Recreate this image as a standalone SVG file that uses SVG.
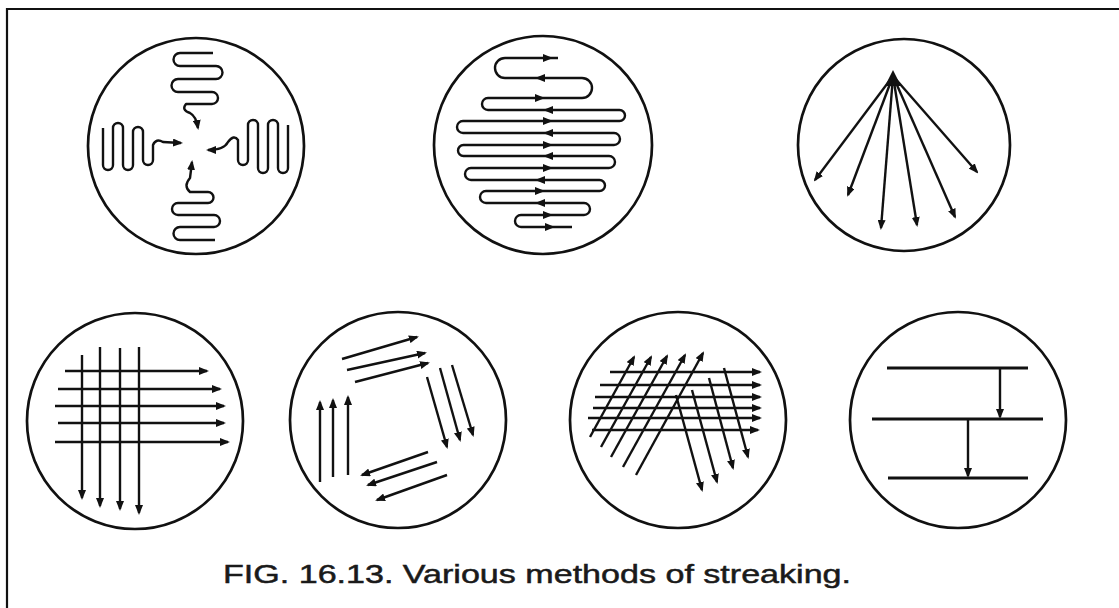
<svg xmlns="http://www.w3.org/2000/svg" xmlns:xlink="http://www.w3.org/1999/xlink" width="1119" height="608" viewBox="0 0 1119 608">
<style>
.plate{fill:none;stroke:#111;stroke-width:2.7}
.s{fill:none;stroke:#111;stroke-width:2.4;stroke-linejoin:round}
.a{marker-end:url(#ah)}
.thick{fill:none;stroke:#111;stroke-width:3.2}
.tri{fill:#111}
.cap{font-family:"Liberation Sans",Arial,sans-serif;font-size:26.5px;fill:#1a1a1a;stroke:#1a1a1a;stroke-width:0.5}
</style>
<defs>
<marker id="ah" viewBox="0 0 10 8" refX="8" refY="4" markerWidth="10" markerHeight="8" markerUnits="userSpaceOnUse" orient="auto"><path d="M0,0 L10,4 L0,8 z" fill="#111"/></marker>
<path id="triR" d="M-5,-4 L5,0 L-5,4 z"/>
<path id="triL" d="M5,-4 L-5,0 L5,4 z"/>
</defs>
<rect width="1119" height="608" fill="#fff"/>
<g id="frame"><path d="M7,608 L7,9 L1119,9" fill="none" stroke="#111" stroke-width="2.2"/></g>

<g id="plate1">
<circle class="plate" cx="196" cy="146" r="108"/>
<path class="s a" d="M213,53 L180,53 A6.5,6.5 0 0 0 180,66 L216,66 A6.5,6.5 0 0 1 216,79 L178,79 A6.5,6.5 0 0 0 178,92 L212,92 A6,6 0 0 1 212,104 L186,104 Q181,110 190,113 Q196,116 198,128"/>
<path class="s a" d="M103,128 L103,165 A5,5 0 0 0 113,165 L113,128 A5,5 0 0 1 123,128 L123,165 A5,5 0 0 0 133,165 L133,132 A5,5 0 0 1 143,132 L143,160 A5,5 0 0 0 153,160 L153,145 Q156,138 163,142 L181,143"/>
<path class="s a" d="M288,125 L288,168 A5,5 0 0 1 278,168 L278,125 A5,5 0 0 0 268,125 L268,168 A5,5 0 0 1 258,168 L258,125 A5,5 0 0 0 248,125 L248,160 A5,5 0 0 1 238,160 L238,140 Q234,134 228,142 Q224,150 208,150"/>
<path class="s a" d="M215,240 L180,240 A6.5,6.5 0 0 1 180,227 L214,227 A6,6 0 0 0 214,215 L178,215 A6,6 0 0 1 178,203 L208,203 A5.5,5.5 0 0 0 208,192 L190,192 Q183,186 190,178 L192,162"/>
</g>

<g id="plate2">
<circle class="plate" cx="543" cy="145" r="109"/>
<path class="s" d="M558,58 L505,58 A10,10 0 0 0 505,78 L582,78 A10,10 0 0 1 582,98 L488,98 A6,6 0 0 0 488,110 L619.5,110 A5.5,5.5 0 0 1 619.5,121 L463,121 A6,6 0 0 0 463,133 L614,133 A6,6 0 0 1 614,145 L463.5,145 A5.5,5.5 0 0 0 463.5,156 L609,156 A6,6 0 0 1 609,168 L471,168 A6,6 0 0 0 471,180 L599.5,180 A5.5,5.5 0 0 1 599.5,191 L486,191 A6,6 0 0 0 486,203 L584,203 A6,6 0 0 1 584,215 L521,215 A6,6 0 0 0 521,227 L572,227"/>
<g class="tri">
<use xlink:href="#triR" x="548" y="58"/>
<use xlink:href="#triL" x="540" y="78"/>
<use xlink:href="#triR" x="540" y="98"/>
<use xlink:href="#triL" x="548" y="110"/>
<use xlink:href="#triR" x="548" y="121"/>
<use xlink:href="#triL" x="548" y="133"/>
<use xlink:href="#triR" x="548" y="145"/>
<use xlink:href="#triL" x="548" y="156"/>
<use xlink:href="#triR" x="548" y="168"/>
<use xlink:href="#triL" x="540" y="180"/>
<use xlink:href="#triR" x="540" y="191"/>
<use xlink:href="#triL" x="540" y="203"/>
<use xlink:href="#triR" x="548" y="215"/>
<use xlink:href="#triR" x="550" y="227"/>
</g>
</g>

<g id="plate3">
<circle class="plate" cx="904" cy="145" r="106"/>
<path class="tri" d="M893,70 L885,86 L901,86 z"/>
<path class="s a" d="M893,76 L815,180"/>
<path class="s a" d="M893,76 L848,195"/>
<path class="s a" d="M893,76 L881,228"/>
<path class="s a" d="M893,76 L917,225"/>
<path class="s a" d="M893,76 L955,217"/>
<path class="s a" d="M893,76 L977,172"/>
</g>

<g id="plate4">
<circle class="plate" cx="135" cy="421" r="108"/>
<path class="s a" d="M65,371 L207,371"/>
<path class="s a" d="M58,389 L220,389"/>
<path class="s a" d="M55,406 L224,406"/>
<path class="s a" d="M58,423 L224,423"/>
<path class="s a" d="M55,442 L228,442"/>
<path class="s a" d="M82,355 L82,498"/>
<path class="s a" d="M100,347 L100,506"/>
<path class="s a" d="M120,348 L120,509"/>
<path class="s a" d="M139,347 L139,513"/>
</g>

<g id="plate5">
<circle class="plate" cx="398" cy="420" r="108"/>
<path class="s a" d="M342,359 L417,337"/>
<path class="s a" d="M347,370 L425,353"/>
<path class="s a" d="M355,382 L428,363"/>
<path class="s a" d="M427,377 L447,447"/>
<path class="s a" d="M440,368 L460,440"/>
<path class="s a" d="M452,365 L473,435"/>
<path class="s a" d="M428,452 L362,475"/>
<path class="s a" d="M437,462 L368,485"/>
<path class="s a" d="M447,475 L377,500"/>
<path class="s a" d="M320,482 L320,402"/>
<path class="s a" d="M333,477 L333,400"/>
<path class="s a" d="M348,475 L348,397"/>
</g>

<g id="plate6">
<circle class="plate" cx="678" cy="420" r="108"/>
<path class="s a" d="M610,372 L760,372"/>
<path class="s a" d="M600,385 L760,385"/>
<path class="s a" d="M595,397 L760,397"/>
<path class="s a" d="M593,408 L760,408"/>
<path class="s a" d="M588,418 L760,418"/>
<path class="s a" d="M592,430 L758,430"/>
<path class="s a" d="M590,437 L634,357"/>
<path class="s a" d="M601,447 L651,357"/>
<path class="s a" d="M611,457 L667,356"/>
<path class="s a" d="M623,467 L685,355"/>
<path class="s a" d="M636,475 L703,353"/>
<path class="s a" d="M676,395 L702,490"/>
<path class="s a" d="M692,390 L717,482"/>
<path class="s a" d="M709,378 L733,468"/>
<path class="s a" d="M724,368 L748,457"/>
</g>

<g id="plate7">
<circle class="plate" cx="958" cy="420" r="108"/>
<path class="thick" d="M887,368 L1028,368"/>
<path class="thick" d="M872,419 L1043,419"/>
<path class="thick" d="M888,478 L1028,478"/>
<path class="s a" d="M1000,369 L1000,417"/>
<path class="s a" d="M968,420 L968,476"/>
</g>

<g id="caption">
<text class="cap" x="223" y="583" textLength="628" lengthAdjust="spacingAndGlyphs">FIG. 16.13. Various methods of streaking.</text>
</g>
</svg>
